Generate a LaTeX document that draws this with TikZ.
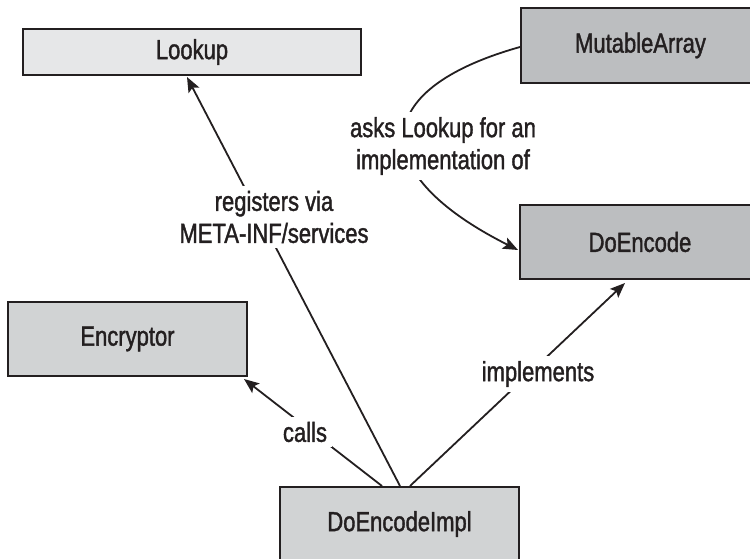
\documentclass[tikz,border=0pt]{standalone}
\usepackage{fontspec}
\setmainfont{Liberation Sans}[FakeStretch=0.8,FakeBold=1.4]
\usetikzlibrary{arrows.meta,calc}
\definecolor{ink}{HTML}{231F20}
\definecolor{paleg}{HTML}{E6E7E8}
\definecolor{midg}{HTML}{D1D3D4}
\definecolor{darkg}{HTML}{BCBEC0}
\tikzset{
  box/.style={draw=ink, line width=2pt, rectangle, inner sep=0pt, text=ink,
    font=\fontsize{27.5}{32}\selectfont},
  conn/.style={draw=ink, line width=1.8pt, -{Stealth[length=15pt,width=12pt,inset=3pt]}},
  lbl/.style={fill=white, inner sep=5pt, text=ink, align=center,
    font=\fontsize{27.5}{32}\selectfont},
}
\begin{document}
\begin{tikzpicture}[x=1pt,y=-1pt]
  \useasboundingbox (0,0) rectangle (750,559);
  \clip (0,0) rectangle (750,559);
  % boxes
  \node[box, fill=paleg, minimum width=338pt, minimum height=46pt] (lookup) at (192,52) {Lookup};
  \node[box, fill=darkg, minimum width=239pt, minimum height=75pt] (mutable) at (640.5,45.5) {MutableArray};
  \node[box, fill=darkg, minimum width=240pt, minimum height=74pt] (doencode) at (640,242) {DoEncode};
  \node[box, fill=midg, minimum width=239pt, minimum height=74pt] (encryptor) at (127.5,339) {Encryptor};
  \node[box, fill=midg, minimum width=239pt, minimum height=74pt] (impl) at (399.5,524) {DoEncodeImpl};
  % connectors
  \draw[conn] ($(impl.north)+(0.5,0)$) -- ($(lookup.south)+(-5,1)$);
  \draw[conn] ($(impl.north)+(-17.5,0)$) -- ($(encryptor.south east)+(-4,2)$);
  \draw[conn] ($(impl.north)+(10.5,0)$) -- ($(doencode.south)+(-15,3)$);
  \draw[conn] ($(mutable.west)+(0,1.5)$) .. controls (367,90) and (367,174) .. ($(doencode.west)+(-1,8)$);
  % labels
  \node[lbl] (lreg) at (274,217) {registers via\\META-INF/services};
  \node[lbl] (lask) at (443,146) {asks Lookup for an\\implementation of};
  \node[lbl] (lcall) at (305,432) {calls};
  \node[lbl] (limpl) at (538,374) {implements};
\end{tikzpicture}
\end{document}
